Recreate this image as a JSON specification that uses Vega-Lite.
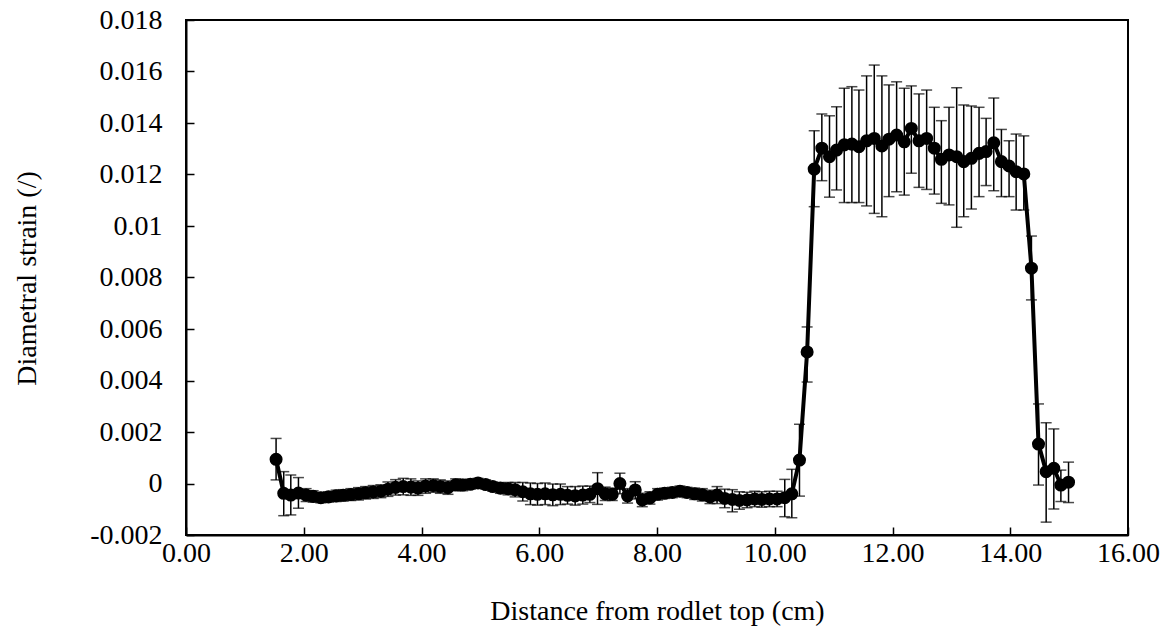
{
  "$schema": "https://vega.github.io/schema/vega-lite/v6.json",
  "width": 942,
  "height": 515,
  "autosize": {"type": "none"},
  "padding": {"left": 186, "top": 20, "right": 48, "bottom": 106},
  "background": "white",
  "config": {
    "view": {"stroke": "#000", "strokeWidth": 2},
    "font": "Liberation Serif",
    "axis": {
      "grid": false,
      "domainColor": "#000",
      "domainWidth": 2,
      "tickColor": "#000",
      "tickWidth": 1.5,
      "tickSize": -8,
      "labelFont": "Liberation Serif",
      "labelFontSize": 28,
      "labelColor": "#000",
      "titleFont": "Liberation Serif",
      "titleFontSize": 28,
      "titleFontWeight": "normal",
      "titleColor": "#000"
    }
  },
  "data": {
    "values": [
      {"x": 1.53, "y": 0.00094, "lo": 0.00014, "hi": 0.00175},
      {"x": 1.66, "y": -0.00038, "lo": -0.00125, "hi": 0.00046},
      {"x": 1.78, "y": -0.00045, "lo": -0.00122, "hi": 0.00033},
      {"x": 1.91, "y": -0.00037, "lo": -0.00096, "hi": 0.00023},
      {"x": 2.04, "y": -0.00045, "lo": -0.0007, "hi": -0.0002},
      {"x": 2.16, "y": -0.0005, "lo": -0.00072, "hi": -0.00028},
      {"x": 2.29, "y": -0.00055, "lo": -0.00075, "hi": -0.00035},
      {"x": 2.42, "y": -0.00052, "lo": -0.00072, "hi": -0.00032},
      {"x": 2.55, "y": -0.00048, "lo": -0.0007, "hi": -0.00026},
      {"x": 2.67, "y": -0.00046, "lo": -0.00068, "hi": -0.00024},
      {"x": 2.8, "y": -0.00043, "lo": -0.00066, "hi": -0.0002},
      {"x": 2.93, "y": -0.0004, "lo": -0.00064, "hi": -0.00016},
      {"x": 3.05, "y": -0.00036, "lo": -0.0006, "hi": -0.00012},
      {"x": 3.18, "y": -0.00033, "lo": -0.00058, "hi": -0.00008},
      {"x": 3.31, "y": -0.0003, "lo": -0.00055, "hi": -0.00005},
      {"x": 3.43, "y": -0.00022, "lo": -0.0005, "hi": 0.00006},
      {"x": 3.56, "y": -0.00015, "lo": -0.00045, "hi": 0.00015},
      {"x": 3.69, "y": -0.00012, "lo": -0.00044, "hi": 0.0002},
      {"x": 3.82, "y": -0.00014, "lo": -0.00046, "hi": 0.00018},
      {"x": 3.94, "y": -0.00018, "lo": -0.00046, "hi": 0.0001},
      {"x": 4.07, "y": -0.0001, "lo": -0.00038, "hi": 0.00018},
      {"x": 4.2, "y": -0.00008, "lo": -0.00034, "hi": 0.00018},
      {"x": 4.32, "y": -0.00012, "lo": -0.00038, "hi": 0.00014},
      {"x": 4.45, "y": -0.00016, "lo": -0.00042, "hi": 0.0001},
      {"x": 4.58, "y": -0.00005, "lo": -0.00028, "hi": 0.00018},
      {"x": 4.7, "y": -0.00006, "lo": -0.00028, "hi": 0.00016},
      {"x": 4.83, "y": -0.00003, "lo": -0.00022, "hi": 0.00016},
      {"x": 4.96, "y": 0.00002, "lo": -0.00016, "hi": 0.0002},
      {"x": 5.09, "y": -0.00004, "lo": -0.00022, "hi": 0.00014},
      {"x": 5.21, "y": -0.00012, "lo": -0.0003, "hi": 0.00006},
      {"x": 5.34, "y": -0.00018, "lo": -0.00038, "hi": 0.00002},
      {"x": 5.47, "y": -0.0002, "lo": -0.00044, "hi": 0.00004},
      {"x": 5.59, "y": -0.00024, "lo": -0.00052, "hi": 0.00004},
      {"x": 5.72, "y": -0.00032, "lo": -0.00068, "hi": 0.00004},
      {"x": 5.85, "y": -0.0004, "lo": -0.00082, "hi": 0.00002},
      {"x": 5.97, "y": -0.00042, "lo": -0.00084, "hi": 0.0},
      {"x": 6.1, "y": -0.0004, "lo": -0.00082, "hi": 0.00002},
      {"x": 6.23, "y": -0.00044, "lo": -0.00086, "hi": -0.00002},
      {"x": 6.36, "y": -0.00042, "lo": -0.00082, "hi": -0.00002},
      {"x": 6.48, "y": -0.00046, "lo": -0.0008, "hi": -0.00012},
      {"x": 6.61, "y": -0.00048, "lo": -0.00084, "hi": -0.00012},
      {"x": 6.74, "y": -0.00045, "lo": -0.0008, "hi": -0.0001},
      {"x": 6.86, "y": -0.00042, "lo": -0.00074, "hi": -0.0001},
      {"x": 6.99, "y": -0.0002, "lo": -0.00081, "hi": 0.00042},
      {"x": 7.12, "y": -0.0004, "lo": -0.00066, "hi": -0.00014},
      {"x": 7.24, "y": -0.00042, "lo": -0.00066, "hi": -0.00018},
      {"x": 7.37, "y": 0.0, "lo": -0.0004, "hi": 0.0004},
      {"x": 7.5, "y": -0.00048, "lo": -0.00076, "hi": -0.0002},
      {"x": 7.63, "y": -0.00025, "lo": -0.0006, "hi": 0.00007},
      {"x": 7.75, "y": -0.00064, "lo": -0.0009, "hi": -0.00038},
      {"x": 7.88, "y": -0.00056, "lo": -0.0008, "hi": -0.00032},
      {"x": 8.01, "y": -0.00042, "lo": -0.00064, "hi": -0.0002},
      {"x": 8.13, "y": -0.00038, "lo": -0.00058, "hi": -0.00018},
      {"x": 8.26, "y": -0.00035, "lo": -0.00055, "hi": -0.00015},
      {"x": 8.39, "y": -0.0003, "lo": -0.0005, "hi": -0.0001},
      {"x": 8.51, "y": -0.00035, "lo": -0.00055, "hi": -0.00015},
      {"x": 8.64, "y": -0.0004, "lo": -0.00062, "hi": -0.00018},
      {"x": 8.77, "y": -0.00044, "lo": -0.00068, "hi": -0.0002},
      {"x": 8.9, "y": -0.00052, "lo": -0.00078, "hi": -0.00026},
      {"x": 9.02, "y": -0.00045, "lo": -0.00078, "hi": -0.00012},
      {"x": 9.15, "y": -0.00058, "lo": -0.00094, "hi": -0.00022},
      {"x": 9.28, "y": -0.00062, "lo": -0.0011, "hi": -0.00024},
      {"x": 9.4, "y": -0.00066, "lo": -0.001, "hi": -0.00032},
      {"x": 9.53, "y": -0.00064, "lo": -0.00094, "hi": -0.00034},
      {"x": 9.66, "y": -0.0006, "lo": -0.0009, "hi": -0.0003},
      {"x": 9.78, "y": -0.00062, "lo": -0.00092, "hi": -0.00032},
      {"x": 9.91, "y": -0.0006, "lo": -0.0009, "hi": -0.0003},
      {"x": 10.04, "y": -0.0006, "lo": -0.0009, "hi": -0.0003},
      {"x": 10.17, "y": -0.00055, "lo": -0.00129, "hi": 0.00016},
      {"x": 10.29, "y": -0.0004, "lo": -0.00133, "hi": 0.00055},
      {"x": 10.42, "y": 0.00091, "lo": -0.00049, "hi": 0.0023},
      {"x": 10.55, "y": 0.00511, "lo": 0.00394, "hi": 0.00608},
      {"x": 10.67, "y": 0.01221, "lo": 0.01075, "hi": 0.0137},
      {"x": 10.8, "y": 0.01302, "lo": 0.01176, "hi": 0.01435},
      {"x": 10.93, "y": 0.01269, "lo": 0.01112, "hi": 0.01428},
      {"x": 11.05, "y": 0.01295, "lo": 0.0114, "hi": 0.01463},
      {"x": 11.18, "y": 0.01315, "lo": 0.01091, "hi": 0.01535},
      {"x": 11.31, "y": 0.01318, "lo": 0.01091, "hi": 0.01541},
      {"x": 11.43, "y": 0.01308, "lo": 0.01091, "hi": 0.01528},
      {"x": 11.56, "y": 0.01331, "lo": 0.01078, "hi": 0.01583},
      {"x": 11.69, "y": 0.0134, "lo": 0.01049, "hi": 0.01625},
      {"x": 11.82, "y": 0.01311, "lo": 0.01036, "hi": 0.01583},
      {"x": 11.94, "y": 0.01337, "lo": 0.01114, "hi": 0.01548},
      {"x": 12.07, "y": 0.01353, "lo": 0.01133, "hi": 0.0156},
      {"x": 12.2, "y": 0.01327, "lo": 0.0112, "hi": 0.01535},
      {"x": 12.32, "y": 0.01379, "lo": 0.01205, "hi": 0.01544},
      {"x": 12.45, "y": 0.01331, "lo": 0.0115, "hi": 0.01513},
      {"x": 12.58, "y": 0.0134, "lo": 0.01142, "hi": 0.01528},
      {"x": 12.71, "y": 0.01302, "lo": 0.01124, "hi": 0.01461},
      {"x": 12.83, "y": 0.01259, "lo": 0.01088, "hi": 0.01409},
      {"x": 12.96, "y": 0.01276, "lo": 0.01082, "hi": 0.01461},
      {"x": 13.09, "y": 0.01269, "lo": 0.00995, "hi": 0.01537},
      {"x": 13.21, "y": 0.0125, "lo": 0.01036, "hi": 0.0147},
      {"x": 13.34, "y": 0.01263, "lo": 0.01066, "hi": 0.01466},
      {"x": 13.47, "y": 0.01282, "lo": 0.01114, "hi": 0.01461},
      {"x": 13.59, "y": 0.01289, "lo": 0.01157, "hi": 0.01418},
      {"x": 13.72, "y": 0.01323, "lo": 0.01137, "hi": 0.01497},
      {"x": 13.85, "y": 0.0125, "lo": 0.01114, "hi": 0.01375},
      {"x": 13.98, "y": 0.01233, "lo": 0.01114, "hi": 0.01331},
      {"x": 14.1, "y": 0.01211, "lo": 0.01062, "hi": 0.01357},
      {"x": 14.23, "y": 0.01202, "lo": 0.01062, "hi": 0.0135},
      {"x": 14.36, "y": 0.00836, "lo": 0.00713, "hi": 0.00961},
      {"x": 14.48, "y": 0.00153, "lo": -0.00006, "hi": 0.00309},
      {"x": 14.61, "y": 0.00046, "lo": -0.0015, "hi": 0.00236},
      {"x": 14.74, "y": 0.00059, "lo": -0.00099, "hi": 0.00212},
      {"x": 14.86, "y": -0.00006, "lo": -0.0007, "hi": 0.00052},
      {"x": 14.99, "y": 0.00005, "lo": -0.00074, "hi": 0.00083}
    ]
  },
  "encoding": {
    "x": {
      "field": "x",
      "type": "quantitative",
      "scale": {"domain": [0, 16], "nice": false, "zero": false},
      "axis": {
        "title": "Distance from rodlet top (cm)",
        "values": [0, 2, 4, 6, 8, 10, 12, 14, 16],
        "format": ".2f",
        "labelPadding": 12,
        "labelFlush": false,
        "titleBaseline": "middle",
        "titleY": 76
      }
    }
  },
  "layer": [
    {
      "mark": {"type": "rule", "color": "#000", "strokeWidth": 1.5},
      "encoding": {
        "y": {"field": "lo", "type": "quantitative"},
        "y2": {"field": "hi"}
      }
    },
    {
      "mark": {"type": "tick", "orient": "horizontal", "color": "#000", "size": 11, "thickness": 1.5},
      "encoding": {"y": {"field": "lo", "type": "quantitative"}}
    },
    {
      "mark": {"type": "tick", "orient": "horizontal", "color": "#000", "size": 11, "thickness": 1.5},
      "encoding": {"y": {"field": "hi", "type": "quantitative"}}
    },
    {
      "mark": {"type": "line", "color": "#000", "strokeWidth": 4},
      "encoding": {"y": {"field": "y", "type": "quantitative"}}
    },
    {
      "mark": {"type": "point", "filled": true, "opacity": 1, "color": "#000", "size": 170},
      "encoding": {
        "y": {
          "field": "y",
          "type": "quantitative",
          "scale": {"domain": [-0.002, 0.018], "nice": false, "zero": false},
          "axis": {
            "title": "Diametral strain (/)",
            "values": [-0.002, 0, 0.002, 0.004, 0.006, 0.008, 0.01, 0.012, 0.014, 0.016, 0.018],
            "labelExpr": "datum.value == 0 ? '0' : '' + (round(datum.value * 1000) / 1000)",
            "labelPadding": 32,
            "labelFlush": false,
            "titleBaseline": "middle",
            "titleAngle": -90,
            "titleX": -159,
            "titleY": 258
          }
        }
      }
    }
  ],
  "resolve": {"scale": {"y": "shared"}}
}
